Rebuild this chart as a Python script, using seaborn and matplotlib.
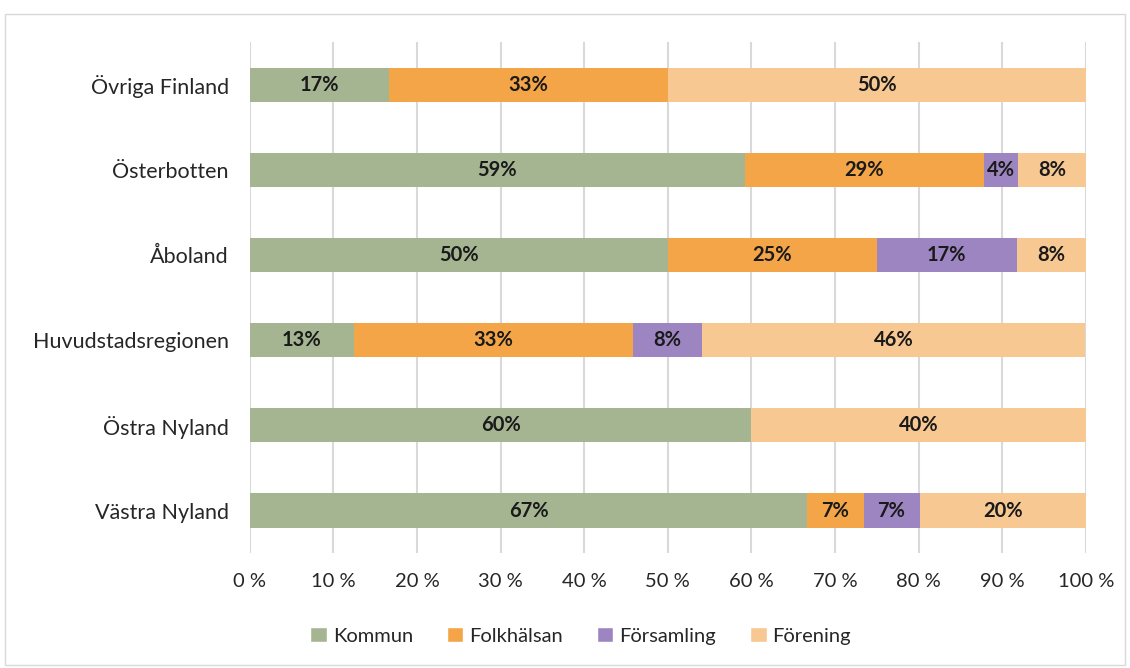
import numpy as np
import pandas as pd
import seaborn as sns
import matplotlib.pyplot as plt
from matplotlib.patches import Patch

regions = ['Övriga Finland', 'Österbotten', 'Åboland', 'Huvudstadsregionen',
           'Östra Nyland', 'Västra Nyland']
series = ['Kommun', 'Folkhälsan', 'Församling', 'Förening']
kommun = [16.7, 59.2, 50.0, 12.5, 60.0, 66.7]
folkhalsan = [33.3, 28.6, 25.0, 33.3, 0.0, 6.7]
forsamling = [0.0, 4.1, 16.7, 8.3, 0.0, 6.7]
forening = [50.0, 8.2, 8.3, 45.8, 40.0, 20.0]
colors = ['#a5b592', '#f3a548', '#9d85c2', '#f7c892']

df = pd.DataFrame({'region': regions, 'Kommun': kommun, 'Folkhälsan': folkhalsan,
                   'Församling': forsamling, 'Förening': forening})
cum = df[series].cumsum(axis=1)

sns.set_style('white')
plt.rcParams['font.family'] = ['Lato', 'DejaVu Sans']
fig = plt.figure(figsize=(11.3, 6.68), dpi=100)
ax = fig.add_axes([0.221, 0.172, 0.740, 0.765])

# stacked bars: draw cumulative totals from the last series back to the first
for s, c in reversed(list(zip(series, colors))):
    sns.barplot(x=cum[s], y=df['region'], color=c, orient='h', width=0.4,
                order=regions, ax=ax, saturation=1, linewidth=0)

for i in range(len(regions)):
    start = 0
    for s in series:
        v = df.loc[i, s]
        if v > 0:
            ax.text(start + v / 2, i, f'{int(v + 0.5)}%', ha='center', va='center',
                    fontsize=14.5, fontweight='bold', color='#1a1a1a')
        start += v

ax.set_xlim(0, 100)
ax.set_ylim(5.5, -0.5)
ax.set_xticks(np.arange(0, 101, 10))
ax.set_xticklabels([f'{t} %' for t in range(0, 101, 10)])
ax.grid(axis='x', color='#d9d9d9', linewidth=1.5)
ax.set_axisbelow(True)
ax.set_xlabel('')
ax.set_ylabel('')
sns.despine(ax=ax, left=True, bottom=True)
ax.tick_params(axis='both', length=0, labelsize=14.5, colors='#262626')
ax.tick_params(axis='y', labelsize=15.5, pad=15)
ax.tick_params(axis='x', pad=14)

handles = [Patch(facecolor=c, label=s) for s, c in zip(series, colors)]
fig.legend(handles=handles, loc='center', bbox_to_anchor=(0.514, 0.048), ncol=4,
           frameon=False, fontsize=14.5, handlelength=0.8, handleheight=0.8,
           handletextpad=0.3, columnspacing=1.7)

fig.patches.append(plt.Rectangle((0.004, 0.004), 0.992, 0.975, transform=fig.transFigure,
                                 fill=False, edgecolor='#d9d9d9', linewidth=1))
fig.savefig('out.png', dpi=100)
